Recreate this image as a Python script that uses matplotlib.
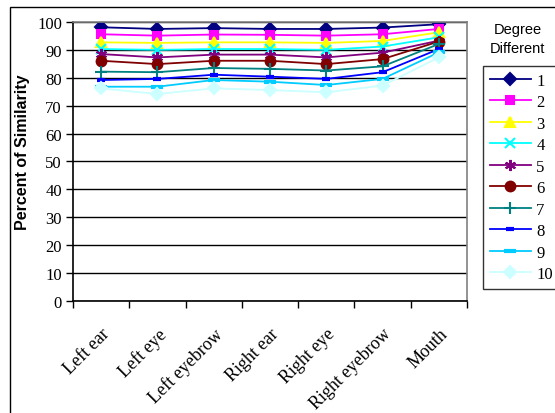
import matplotlib
matplotlib.use("Agg")
import matplotlib.pyplot as plt
from matplotlib.patches import Rectangle
from matplotlib.transforms import ScaledTranslation

features = ["Left ear", "Left eye", "Left eyebrow", "Right ear",
            "Right eye", "Right eyebrow", "Mouth"]
degrees = ["1", "2", "3", "4", "5", "6", "7", "8", "9", "10"]

d1 = [98.1, 97.5, 97.8, 97.5, 97.5, 98.0, 99.2]
d2 = [95.6, 95.1, 95.5, 95.4, 95.1, 95.6, 97.5]
d3 = [92.7, 92.5, 92.7, 92.7, 92.5, 93.2, 96.3]
d4 = [90.3, 90.0, 90.3, 90.3, 90.0, 91.2, 94.5]
d5 = [88.5, 87.3, 88.3, 88.3, 87.3, 89.0, 93.3]
d6 = [86.1, 84.9, 86.1, 86.1, 84.9, 86.7, 93.0]
d7 = [82.2, 82.0, 83.5, 83.2, 82.6, 84.1, 92.1]
d8 = [79.2, 79.6, 81.1, 80.4, 79.6, 82.0, 90.3]
d9 = [76.8, 76.8, 79.2, 78.6, 77.4, 79.6, 89.1]
d10 = [76.2, 74.2, 76.2, 75.6, 74.8, 77.2, 87.3]
series = [d1, d2, d3, d4, d5, d6, d7, d8, d9, d10]

colors = ["#000080", "#FF00FF", "#FFFF00", "#00FFFF", "#800080",
          "#800000", "#008080", "#0000FF", "#00CCFF", "#CCFFFF"]
markers = ["D", "s", "^", "x", (6, 2, 0), "o", "+", "_", "_", "D"]
msizes = [6, 6, 7, 7, 8, 7, 8, 6, 8, 6]

serif = "Liberation Serif"
sans = "Liberation Sans"

fig = plt.figure(figsize=(5.55, 4.14), dpi=100)
ax = fig.add_axes([0.1315, 0.2705, 0.7099, 0.674])

x = range(len(features))
for vals, c, m, ms, lab in zip(series, colors, markers, msizes, degrees):
    mew = 1.5
    if m == "_":
        mew = 3
    ax.plot(x, vals, color=c, marker=m, markersize=ms, markeredgewidth=mew,
            markeredgecolor=c, markerfacecolor=c, linewidth=1.3, label=lab)

ax.set_xlim(-0.5, 6.5)
ax.set_ylim(0, 100)
ax.set_yticks(range(0, 101, 10))
ax.yaxis.grid(True, color="black", linewidth=1)
ax.set_axisbelow(True)
ax.set_xticks(list(x))
ax.set_xticklabels(features, rotation=45, ha="right", rotation_mode="anchor",
                   fontfamily=serif, fontsize=13)
shift = ScaledTranslation(-14 / 100, 0, fig.dpi_scale_trans)
for t in ax.get_xticklabels():
    t.set_transform(t.get_transform() + shift)
ax.set_xticks([i - 0.5 for i in range(8)], minor=True)
ax.tick_params(axis="x", which="major", length=0, pad=17)
ax.tick_params(axis="x", which="minor", length=5, direction="out", width=1)
ax.tick_params(axis="y", length=5, direction="out", width=1, pad=3)
for t in ax.get_yticklabels():
    t.set_fontfamily(serif)
    t.set_fontsize(12)

ax.spines["left"].set_color("black")
ax.spines["bottom"].set_color("black")
ax.spines["top"].set_color("#808080")
ax.spines["right"].set_color("#808080")
for s in ax.spines.values():
    s.set_linewidth(1.2)

ax.set_ylabel("Percent of Similarity", fontfamily=sans, fontweight="bold",
              fontsize=11.5, labelpad=2)
ax.yaxis.set_label_coords(-0.11, 0.535)

fig.text(0.933, 0.945, "Degree\nDifferent", ha="center", va="top",
         fontfamily=sans, fontsize=10.5, linespacing=1.5)

leg = fig.legend(loc="upper left", bbox_to_anchor=(0.870, 0.838),
                 prop={"family": serif, "size": 12}, frameon=True,
                 fancybox=False, edgecolor="black", handlelength=2.5,
                 labelspacing=0.33, handletextpad=0.3, borderpad=0.4,
                 borderaxespad=0)
leg.get_frame().set_linewidth(1)

fig.patches.append(Rectangle((0.018, -0.1), 1.1, 1.081, transform=fig.transFigure,
                             fill=False, edgecolor="black", linewidth=1))

fig.savefig("out.png", dpi=100)
